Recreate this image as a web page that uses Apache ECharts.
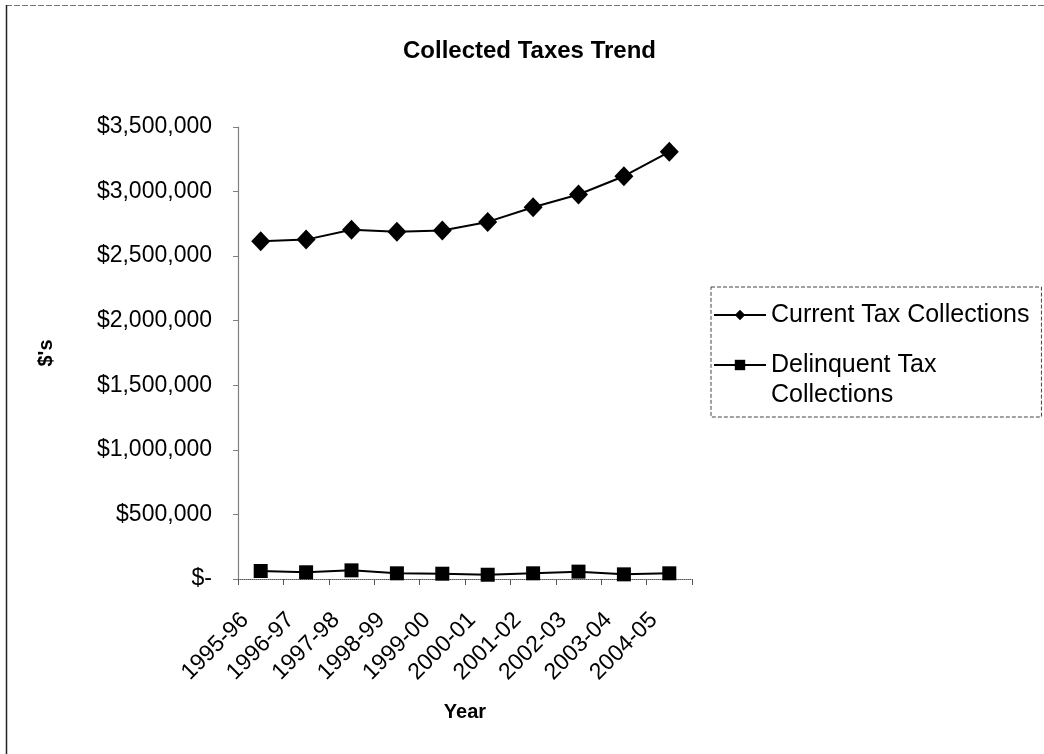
<!DOCTYPE html>
<html>
<head>
<meta charset="utf-8">
<title>Collected Taxes Trend</title>
<script src="https://cdn.jsdelivr.net/npm/echarts@6/dist/echarts.min.js"></script>
<style>
  html, body { margin: 0; padding: 0; background: #fff; }
  #chart { width: 1044px; height: 754px; }
</style>
</head>
<body>
<div id="chart"></div>
<script>
// Fiscal years on the category axis
const years = ['1995-96', '1996-97', '1997-98', '1998-99', '1999-00',
               '2000-01', '2001-02', '2002-03', '2003-04', '2004-05'];

// Collections in dollars per fiscal year
const currentTax = [2615000, 2628000, 2705000, 2688000, 2698000,
                    2765000, 2878000, 2977000, 3119000, 3308000];
const delinquentTax = [62000, 52000, 67000, 44000, 41000,
                       33000, 44000, 57000, 36000, 44000];

// Value-axis range
const yMin = 0;
const yMax = 3500000;
const yStep = 500000;

const FONT = '"Liberation Sans", Arial, Helvetica, sans-serif';

function dollarLabel(v) {
  if (v === 0) return '$-';
  return '$' + v.toLocaleString('en-US');
}

// Long legend names wrap onto a second line; the leading blank line keeps
// the first text line level with the legend symbol.
function legendLabel(name) {
  return name === 'Delinquent Tax Collections' ? '\nDelinquent Tax\nCollections' : name;
}

const chart = echarts.init(document.getElementById('chart'), null, { renderer: 'canvas' });

chart.setOption({
  animation: false,
  backgroundColor: '#ffffff',
  textStyle: { fontFamily: FONT, color: '#000' },
  title: {
    text: 'Collected Taxes Trend',
    left: 403,
    top: 39,
    padding: 0,
    textStyle: { fontFamily: FONT, fontSize: 24, fontWeight: 'bold', color: '#000' }
  },
  graphic: [
    // chart-area frame: top and left edges
    { type: 'line', shape: { x1: 6, y1: 5.5, x2: 1044, y2: 5.5 },
      style: { stroke: '#777', lineWidth: 1, lineDash: [6, 2] }, silent: true },
    { type: 'line', shape: { x1: 6.5, y1: 5, x2: 6.5, y2: 754 },
      style: { stroke: '#222', lineWidth: 1.5 }, silent: true }
  ],
  legend: {
    orient: 'vertical',
    left: 711,
    top: 287,
    padding: [14, 12, 7, 2],
    itemGap: -9,
    itemWidth: 52,
    itemHeight: 13,
    borderColor: '#444',
    borderWidth: 1,
    borderType: 'dashed',
    textStyle: { fontFamily: FONT, fontSize: 25, color: '#000', lineHeight: 28 },
    data: [
      { name: 'Current Tax Collections' },
      { name: 'Delinquent Tax Collections', textStyle: { lineHeight: 30 } }
    ],
    formatter: legendLabel
  },
  grid: {
    left: 238,
    right: 352,
    top: 127,
    bottom: 175,
    containLabel: false
  },
  xAxis: {
    type: 'category',
    data: years,
    boundaryGap: true,
    name: 'Year',
    nameLocation: 'middle',
    nameGap: 123,
    nameTextStyle: { fontFamily: FONT, fontSize: 20, fontWeight: 'bold', color: '#000' },
    axisLine: { show: true, lineStyle: { color: '#555', width: 1, type: 'dotted' } },
    axisTick: { show: true, inside: false, length: 6, alignWithLabel: false,
                lineStyle: { color: '#555', width: 1 } },
    axisLabel: {
      rotate: 45,
      interval: 0,
      margin: 22,
      padding: [0, 22, 0, 0],
      fontFamily: FONT,
      fontSize: 23,
      color: '#000'
    },
    splitLine: { show: false }
  },
  yAxis: {
    type: 'value',
    min: yMin,
    max: yMax,
    interval: yStep,
    name: "$'s",
    nameLocation: 'middle',
    nameGap: 182,
    nameRotate: 90,
    nameTextStyle: { fontFamily: FONT, fontSize: 20, fontWeight: 'bold', color: '#000' },
    axisLine: { show: true, lineStyle: { color: '#808080', width: 1.2 } },
    axisTick: { show: true, inside: false, length: 5, lineStyle: { color: '#808080', width: 1 } },
    axisLabel: {
      margin: 26,
      fontFamily: FONT,
      fontSize: 23,
      color: '#000',
      formatter: dollarLabel
    },
    splitLine: { show: false }
  },
  series: [
    {
      name: 'Current Tax Collections',
      type: 'line',
      data: currentTax,
      symbol: 'diamond',
      symbolSize: [19, 20],
      showAllSymbol: true,
      lineStyle: { color: '#000', width: 2 },
      itemStyle: { color: '#000' },
      emphasis: { disabled: true }
    },
    {
      name: 'Delinquent Tax Collections',
      type: 'line',
      data: delinquentTax,
      symbol: 'rect',
      symbolSize: 14,
      showAllSymbol: true,
      lineStyle: { color: '#000', width: 2 },
      itemStyle: { color: '#000' },
      emphasis: { disabled: true }
    }
  ]
});
</script>
</body>
</html>
